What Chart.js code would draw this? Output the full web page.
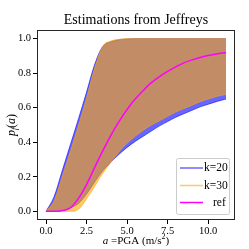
<!DOCTYPE html>
<html>
<head>
<meta charset="utf-8">
<script src="https://cdn.jsdelivr.net/npm/chart.js@4.4.1/dist/chart.umd.min.js"></script>
<style>
  html, body { margin: 0; padding: 0; background: #fff; }
</style>
</head>
<body>
<canvas id="fragility" width="249" height="249"></canvas>
<script>
// PGA grid (m/s^2) and curves
const pga = [0, 0.5, 1, 1.5, 2, 2.5, 3, 3.5, 4, 4.5, 5, 5.5, 6, 6.5, 7, 7.5, 8, 8.5, 9, 9.5, 10, 10.5, 11, 11.1];
const k20Upper = [0, 0.085, 0.235, 0.385, 0.535, 0.69, 0.85, 0.955, 0.982, 0.993, 0.998, 1, 1, 1, 1, 1, 1, 1, 1, 1, 1, 1, 1, 1];
const k20Lower = [0, 0, 0.003, 0.02, 0.045, 0.1, 0.17, 0.235, 0.285, 0.33, 0.37, 0.405, 0.435, 0.465, 0.495, 0.52, 0.545, 0.565, 0.585, 0.605, 0.62, 0.635, 0.648, 0.65];
const k30Upper = [0, 0.06, 0.2, 0.345, 0.495, 0.655, 0.83, 0.955, 0.986, 0.996, 1, 1, 1, 1, 1, 1, 1, 1, 1, 1, 1, 1, 1, 1];
const k30Lower = [0, 0, 0, 0, 0.012, 0.072, 0.145, 0.22, 0.283, 0.345, 0.395, 0.435, 0.47, 0.5, 0.525, 0.55, 0.575, 0.595, 0.615, 0.635, 0.65, 0.665, 0.675, 0.677];
const refCurve = [0, 0, 0.005, 0.02, 0.075, 0.155, 0.255, 0.35, 0.44, 0.52, 0.59, 0.65, 0.7, 0.745, 0.78, 0.81, 0.837, 0.86, 0.877, 0.891, 0.902, 0.911, 0.918, 0.919];
const xTicks = [0, 2.5, 5, 7.5, 10];
const yTicks = [0, 0.2, 0.4, 0.6, 0.8, 1];

const SERIF = '"Liberation Serif", "DejaVu Serif", serif';
const BLUE = 'rgba(0, 0, 255, 0.6)';
const ORANGE = 'rgba(255, 165, 0, 0.6)';
const MAGENTA = '#ff00ff';

function pts(ys) {
  return pga.map((x, i) => ({ x: x, y: ys[i] }));
}

function band(data, color, fill) {
  return {
    data: pts(data),
    borderColor: color,
    backgroundColor: color,
    borderWidth: 1,
    pointRadius: 0,
    cubicInterpolationMode: 'monotone',
    fill: fill
  };
}

// draw mixed-font text pieces in a row, centred on (cx, cy)
function drawPieces(ctx, pieces, cx, cy) {
  let total = 0;
  pieces.forEach(p => {
    ctx.font = p.font;
    p.w = ctx.measureText(p.text).width;
    total += p.w;
  });
  let x = cx - total / 2;
  ctx.textBaseline = 'middle';
  ctx.textAlign = 'left';
  pieces.forEach(p => {
    ctx.font = p.font;
    ctx.fillText(p.text, x, cy + (p.dy || 0));
    x += p.w;
  });
}

const decorations = {
  id: 'decorations',
  afterDatasetsDraw(chart) {
    const { ctx, chartArea: a } = chart;
    ctx.save();
    ctx.strokeStyle = '#262626';
    ctx.lineWidth = 1;
    ctx.strokeRect(a.left + 0.5, a.top + 0.5, a.right - a.left - 1, a.bottom - a.top - 1);
    ctx.restore();
  },
  afterDraw(chart) {
    const { ctx, chartArea: a } = chart;
    ctx.save();
    ctx.fillStyle = '#000';

    // title
    ctx.font = '14px ' + SERIF;
    ctx.textAlign = 'center';
    ctx.textBaseline = 'middle';
    ctx.fillText('Estimations from Jeffreys', (a.left + a.right) / 2, 20);

    // x label
    drawPieces(ctx, [
      { text: 'a', font: 'italic 11px ' + SERIF },
      { text: ' =PGA (m/s', font: '11px ' + SERIF },
      { text: '2', font: '8px ' + SERIF, dy: -4 },
      { text: ')', font: '11px ' + SERIF }
    ], (a.left + a.right) / 2, 241);

    // y label
    ctx.save();
    ctx.translate(12, (a.top + a.bottom) / 2);
    ctx.rotate(-Math.PI / 2);
    drawPieces(ctx, [
      { text: 'p', font: 'italic 12px ' + SERIF },
      { text: 'f', font: 'italic 8px ' + SERIF, dy: 3 },
      { text: '(', font: '12px ' + SERIF },
      { text: 'a', font: 'italic 12px ' + SERIF },
      { text: ')', font: '12px ' + SERIF }
    ], 0, 0);
    ctx.restore();

    // legend box
    const bx = 176, by = 158, bw = 53, bh = 56;
    ctx.beginPath();
    ctx.roundRect(bx + 0.5, by + 0.5, bw, bh, 2);
    ctx.fillStyle = 'rgba(255,255,255,0.8)';
    ctx.fill();
    ctx.strokeStyle = '#cccccc';
    ctx.lineWidth = 1;
    ctx.stroke();

    const rows = [
      { label: 'k=20', color: BLUE, y: 168, tx: 204 },
      { label: 'k=30', color: ORANGE, y: 185.5, tx: 204 },
      { label: 'ref', color: MAGENTA, y: 202.5, tx: 213 }
    ];
    ctx.font = '11.5px ' + SERIF;
    ctx.textAlign = 'left';
    ctx.textBaseline = 'middle';
    rows.forEach(r => {
      ctx.strokeStyle = r.color;
      ctx.lineWidth = 1.5;
      ctx.beginPath();
      ctx.moveTo(180, r.y);
      ctx.lineTo(203, r.y);
      ctx.stroke();
      ctx.fillStyle = '#000';
      ctx.fillText(r.label, r.tx, r.y);
    });
    ctx.restore();
  }
};

const ctx = document.getElementById('fragility').getContext('2d');
new Chart(ctx, {
  type: 'line',
  data: {
    datasets: [
      {
        data: pts(refCurve),
        borderColor: MAGENTA,
        borderWidth: 1.5,
        pointRadius: 0,
        cubicInterpolationMode: 'monotone',
        fill: false
      },
      band(k30Upper, ORANGE, '+1'),
      band(k30Lower, ORANGE, false),
      band(k20Upper, BLUE, '+1'),
      band(k20Lower, BLUE, false)
    ]
  },
  options: {
    responsive: false,
    animation: false,
    devicePixelRatio: 1,
    layout: { padding: { left: 0, right: 14, top: 30, bottom: 0 } },
    plugins: {
      legend: { display: false },
      tooltip: { enabled: false },
      title: { display: false }
    },
    scales: {
      x: {
        type: 'linear',
        min: -0.555,
        max: 11.655,
        afterFit: s => { s.height = 29; },
        afterBuildTicks: s => { s.ticks = xTicks.map(v => ({ value: v })); },
        grid: { drawOnChartArea: false, drawTicks: true, tickLength: 4, color: '#000' },
        border: { display: false },
        ticks: {
          color: '#000',
          padding: 1,
          maxRotation: 0,
          font: { family: SERIF, size: 10.5 },
          callback: v => v.toFixed(1)
        }
      },
      y: {
        min: -0.05,
        max: 1.05,
        afterFit: s => { s.width = 37; },
        afterBuildTicks: s => { s.ticks = yTicks.map(v => ({ value: v })); },
        grid: { drawOnChartArea: false, drawTicks: true, tickLength: 4, color: '#000' },
        border: { display: false },
        ticks: {
          color: '#000',
          padding: 2,
          font: { family: SERIF, size: 10.5 },
          callback: v => v.toFixed(1)
        }
      }
    }
  },
  plugins: [decorations]
});
</script>
</body>
</html>
